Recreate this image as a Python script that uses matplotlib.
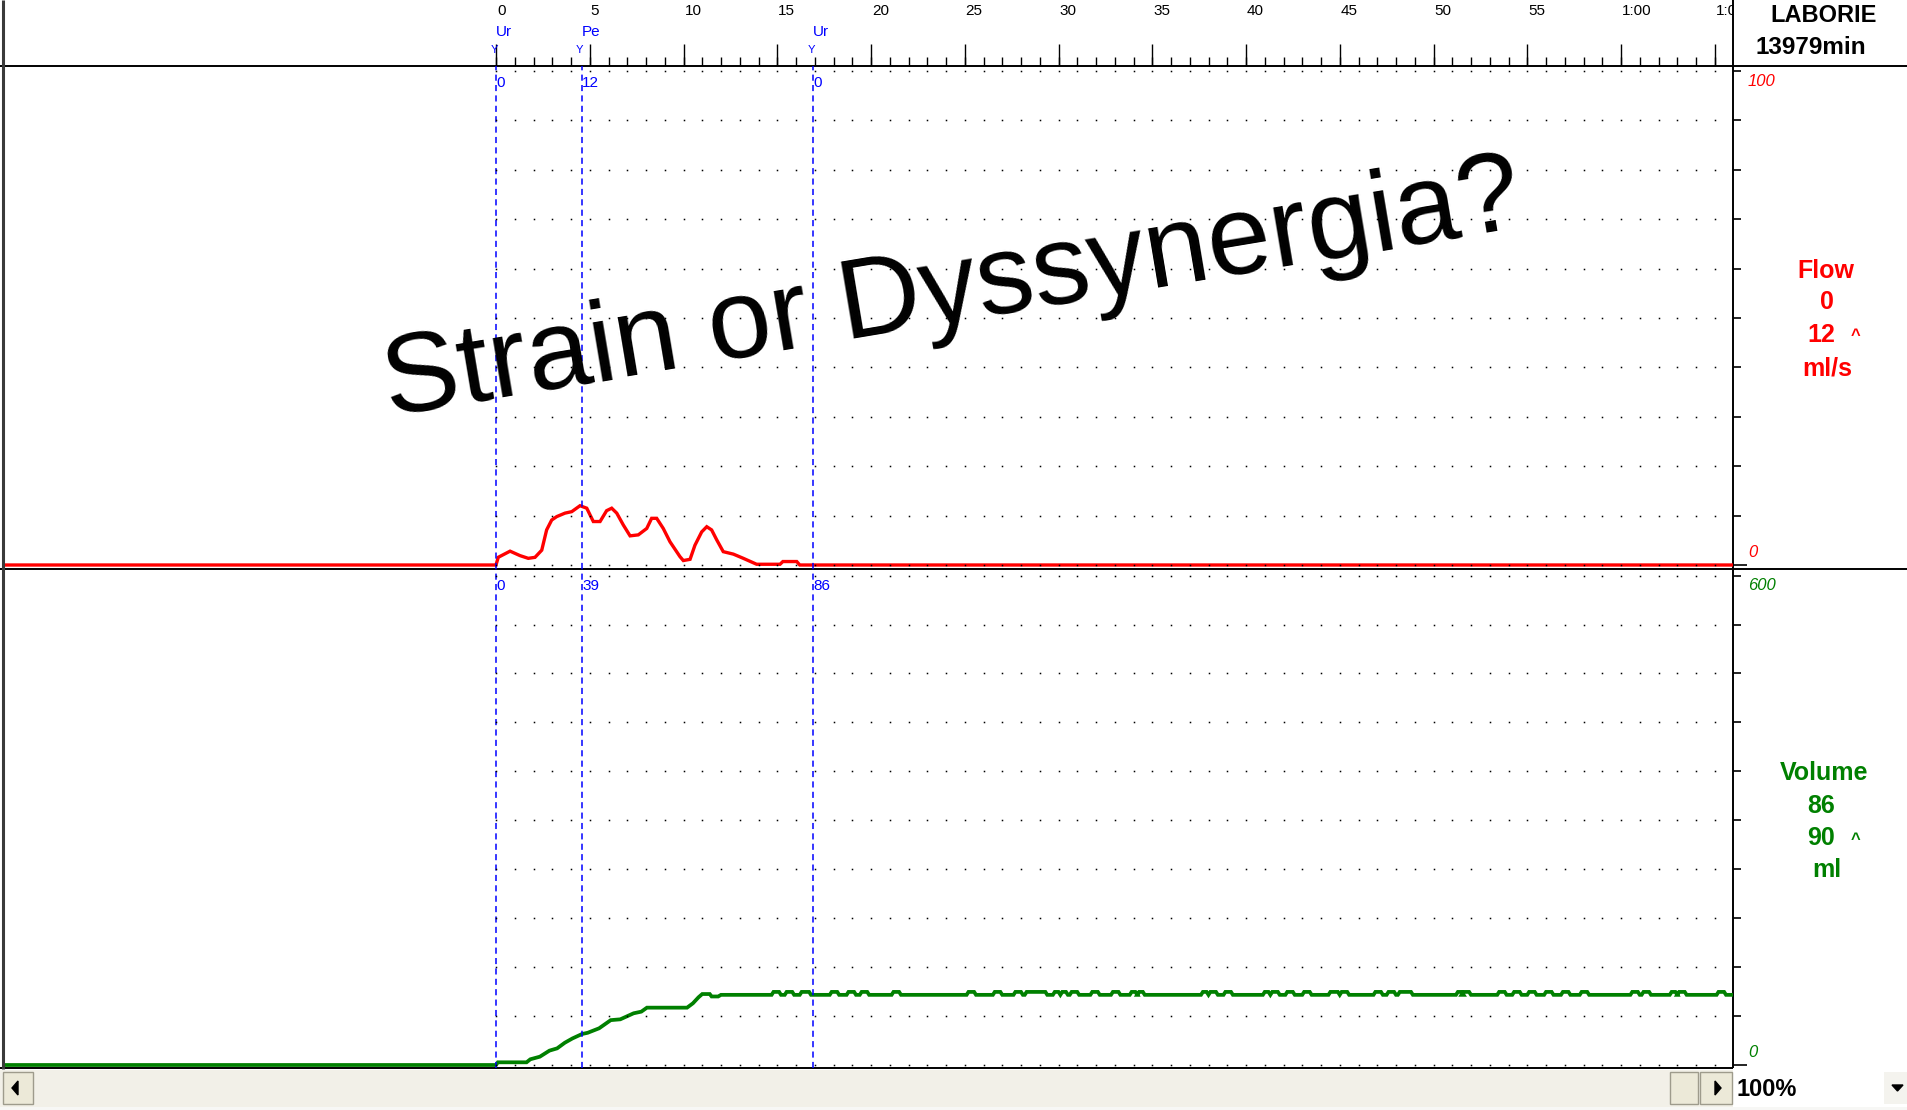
import matplotlib
matplotlib.use("Agg")
import matplotlib.pyplot as plt
from matplotlib import font_manager
from matplotlib.patches import Rectangle, Polygon

# ---- values (time in seconds) ----
flow_t = [-26.2, 0.0, 0.12, 0.75, 1.28, 1.72, 2.08, 2.44, 2.7, 2.97, 3.24,
          3.68, 4.04, 4.48, 4.84, 5.19, 5.55, 5.9, 6.17, 6.44, 6.79, 7.15,
          7.59, 8.04, 8.3, 8.57, 8.92, 9.28, 9.81, 9.99, 10.35, 10.61, 10.97,
          11.24, 11.5, 11.77, 12.12, 12.66, 13.19, 13.9, 15.15, 15.3, 16.04,
          16.2, 66.0]
flow_v = [0, 0, 1.56, 2.8, 1.9, 1.35, 1.55, 3.0, 7.1, 9.1, 9.8,
          10.5, 10.8, 12.0, 11.5, 8.8, 8.8, 11.0, 11.5, 10.5, 8.1, 5.9,
          6.1, 7.4, 9.45, 9.45, 7.4, 4.7, 1.7, 0.9, 1.15, 4.0, 6.7,
          7.75, 7.1, 5.1, 2.7, 2.2, 1.35, 0.15, 0.15, 0.7, 0.7,
          0, 0]

vol_t = [-26.2, 0.0, 0.1, 1.63, 1.83, 2.34, 2.85, 3.26, 3.67, 4.08, 4.59,
         4.89, 5.5, 6.12, 6.63, 7.34, 7.75, 8.05, 10.19, 10.5, 10.8, 11.0,
         11.4, 11.5, 11.85, 12.0]
vol_v = [0, 0, 3.3, 3.3, 7.0, 10.2, 17.6, 20.4, 27.3, 32.6, 38.0,
         39.5, 45.0, 55.0, 56.0, 63.4, 65.4, 70.3, 70.3, 75.6, 83.0, 87.0,
         87.0, 84.0, 84.0, 86.0]
vol_level = 86.0
vol_end_t = 66.0
# small noise blips on the volume plateau: start time and duration
bump_t = [14.8, 15.5, 16.3, 17.9, 18.8, 19.5, 21.2, 25.2, 26.6, 27.7,
          28.3, 29.8, 30.2, 30.7, 31.8, 32.9, 33.9, 34.3, 37.7, 38.1,
          38.9, 41.0, 41.4, 42.2, 43.1, 44.5, 45.1, 46.9, 47.6, 48.2,
          51.3, 51.6, 53.5, 54.3, 55.1, 56.0, 56.9, 57.9, 60.6, 61.2,
          62.7, 63.1, 65.2]
bump_len = [0.3, 0.3, 0.4, 0.3, 0.3, 0.3, 0.3, 0.3, 0.3, 0.3,
            1.0, 0.2, 0.2, 0.3, 0.3, 0.3, 0.2, 0.2, 0.2, 0.3,
            0.3, 0.2, 0.3, 0.3, 0.3, 0.4, 0.3, 0.3, 0.3, 0.6,
            0.2, 0.3, 0.3, 0.3, 0.3, 0.3, 0.3, 0.3, 0.3, 0.3,
            0.2, 0.3, 0.3]
bump_top = 89.6

marker_t = [0.0, 4.57, 16.9]
marker_names = ["Ur", "Pe", "Ur"]
marker_flow = ["0", "12", "0"]
marker_vol = ["0", "39", "86"]

time_ticks = list(range(0, 70, 5))
time_labels = ["0", "5", "10", "15", "20", "25", "30", "35", "40", "45",
               "50", "55", "1:00", "1:05"]
flow_levels = list(range(0, 101, 10))
vol_levels = list(range(0, 601, 60))

# ---- fonts ----
names = {f.name for f in font_manager.fontManager.ttflist}
NARROW = "Liberation Sans Narrow" if "Liberation Sans Narrow" in names else "Liberation Sans"
plt.rcParams["font.family"] = ["Liberation Sans", "DejaVu Sans"]

# ---- geometry (pixels of the 1907x1110 screen) ----
W, H = 1907, 1110
PX_PER_S = 18.75
T0_PX = 496
X_LEFT, X_AXIS = 5, 1733
t_lim = ((X_LEFT - T0_PX) / PX_PER_S, (X_AXIS - T0_PX) / PX_PER_S)


def px_box(x0, y0, x1, y1):
    return [x0 / W, 1 - y1 / H, (x1 - x0) / W, (y1 - y0) / H]


fig = plt.figure(figsize=(W / 100, H / 100), dpi=100)
fig.patch.set_facecolor("white")

# 1: background axes in pixel units for frame lines, scrollbar and side panel
ax_bg = fig.add_axes([0, 0, 1, 1])
ax_bg.set_xlim(0, W)
ax_bg.set_ylim(H, 0)
ax_bg.set_axis_off()

ax_bg.hlines([66, 569], 0, W, color="black", lw=1.4)
ax_bg.hlines(1068, 0, X_AXIS, color="black", lw=1.4)
ax_bg.vlines(X_AXIS, 0, 1068, color="black", lw=1.4)
ax_bg.vlines(2.5, 0, 1069, color="#3a3a3a", lw=2.2)

# scrollbar strip
ax_bg.add_patch(Rectangle((0, 1069.5), X_AXIS, 37, facecolor="#F2F0E8", edgecolor="none"))
ax_bg.add_patch(Rectangle((0, 1106.5), W, 4, facecolor="#F7F7F5", edgecolor="none"))
for x0, w in [(3, 30), (1670, 28), (1700, 32)]:
    ax_bg.add_patch(Rectangle((x0, 1072), w, 32, facecolor="#ECE9D8", edgecolor="#9E9B8C", lw=1))
ax_bg.add_patch(Polygon([(12, 1088), (18, 1081), (18, 1095)], closed=True, color="black"))
ax_bg.add_patch(Polygon([(1721, 1088), (1715, 1081), (1715, 1095)], closed=True, color="black"))
ax_bg.add_patch(Rectangle((X_AXIS + 1, 1070), W - X_AXIS - 1, 36, facecolor="white", edgecolor="none"))
ax_bg.add_patch(Rectangle((1884, 1072), 23, 32, facecolor="#F4F3EE", edgecolor="none"))
ax_bg.add_patch(Polygon([(1892, 1085), (1903, 1085), (1897.5, 1091)], closed=True, color="black"))
ax_bg.text(1737, 1089, "100%", fontsize=17, fontweight="bold", ha="left", va="center")

# side panel captions
ax_bg.text(1824, 16, "LABORIE", fontsize=17, fontweight="bold", ha="center", va="center")
ax_bg.text(1811, 47, "13979min", fontsize=17.5, fontweight="bold", ha="center", va="center")

flow_now = f"{flow_v[-1]:.0f}"
flow_max = f"{max(flow_v):.0f}"
vol_now = f"{vol_level:.0f}"
vol_max = f"{bump_top:.0f}"
side = [("Flow", 1826, 271, "red"), (flow_now, 1827, 302, "red"),
        (flow_max, 1821, 335, "red"), ("ml/s", 1827, 368, "red"),
        ("Volume", 1824, 773, "green"), (vol_now, 1821, 806, "green"),
        (vol_max, 1821, 838, "green"), ("ml", 1827, 870, "green")]
for s, x, y, c in side:
    ax_bg.text(x, y, s, color=c, fontsize=18, fontweight="bold", ha="center", va="center")
ax_bg.text(1856, 336, "^", color="red", fontsize=12, fontweight="bold", ha="center", va="center")
ax_bg.text(1856, 839, "^", color="green", fontsize=12, fontweight="bold", ha="center", va="center")

# 2: header time ruler
ax_h = fig.add_axes(px_box(X_LEFT, 0, X_AXIS, 66))
ax_h.set_facecolor("none")
ax_h.set_axis_off()
ax_h.vlines(range(0, 66), 57, 66, color="black", lw=1)
ax_h.vlines(time_ticks, 44, 66, color="black", lw=1)
for t, lab in zip(time_ticks, time_labels):
    ax_h.text(t + 1 / PX_PER_S, 11, lab, ha="left", va="center", fontsize=11,
              family=NARROW, clip_on=True)
for t, name in zip(marker_t, marker_names):
    ax_h.text(t, 32, name, ha="left", va="center", fontsize=11, color="blue", family=NARROW)
    ax_h.text(t - 0.1, 50, "Y", ha="center", va="center", fontsize=8, color="blue")
ax_h.set_xlim(*t_lim)
ax_h.set_ylim(66, 0)

# 3: flow and volume panels
ax_f = fig.add_axes(px_box(X_LEFT, 66, X_AXIS, 569))
ax_v = fig.add_axes(px_box(X_LEFT, 569, X_AXIS, 1068))

# build volume trace: rising part, then plateau with the blips
full_vol_t, full_vol_v = list(vol_t), list(vol_v)
for tb, ln in zip(bump_t, bump_len):
    full_vol_t += [tb - 0.1, tb, tb + ln, tb + ln + 0.1]
    full_vol_v += [vol_level, bump_top, bump_top, vol_level]
full_vol_t.append(vol_end_t)
full_vol_v.append(vol_level)

panels = [
    (ax_f, flow_levels, flow_t, flow_v, "#FF0000", 2.4, marker_flow,
     (-(569 - 565) / 4.94, (565 - 66) / 4.94), ["100", "0"], [(0.984, "top"), (0.018, "bottom")]),
    (ax_v, vol_levels, full_vol_t, full_vol_v, "#008000", 2.7, marker_vol,
     (-(1068 - 1065) / 0.8157, (1065 - 569) / 0.8157), ["600", "0"], [(0.982, "top"), (0.016, "bottom")]),
]
for ax, levels, xs, ys, col, lw, mlabels, ylim, elabels, epos in panels:
    ax.set_facecolor("none")
    ax.set_axis_off()
    # dotted grid
    gx = [t for t in range(0, 66) for _ in levels]
    gy = [v for _ in range(0, 66) for v in levels]
    ax.plot(gx, gy, ls="none", marker="s", ms=1.1, mew=0, color="black", zorder=4)
    # trace
    ax.plot(xs, ys, color=col, lw=lw, zorder=2, solid_joinstyle="miter")
    # event markers
    for t, lab in zip(marker_t, mlabels):
        ax.axvline(t, color="blue", lw=1.1, dashes=(4, 2.8), zorder=3)
        ax.text(t + 0.5 / PX_PER_S, 0.966, lab, transform=ax.get_xaxis_transform(),
                ha="left", va="center", fontsize=11, color="blue", family=NARROW)
    # right-hand scale ticks
    ytr = ax.get_yaxis_transform()
    ax.hlines(levels[1:], 1.0, 1.0 + 8 / 1728, transform=ytr, color="black", lw=1.2, clip_on=False)
    ax.hlines(levels[0], 1.0, 1.0 + 14 / 1728, transform=ytr, color="black", lw=1.2, clip_on=False)
    ax.set_xlim(*t_lim)
    ax.set_ylim(*ylim)
    for lab, (yf, va) in zip(elabels, epos):
        ax.text(1.0 + 15 / 1728, yf, lab, transform=ax.transAxes, ha="left", va=va,
                fontsize=12, style="italic", color=col, clip_on=False)

# 4: the annotation across the plot
fig.text(957 / W, 1 - 321 / H, "Strain or Dyssynergia?", fontsize=82, color="black",
         rotation=9.5, rotation_mode="anchor", ha="center", va="baseline", zorder=10)

fig.savefig("out.png", dpi=100, facecolor="white")
